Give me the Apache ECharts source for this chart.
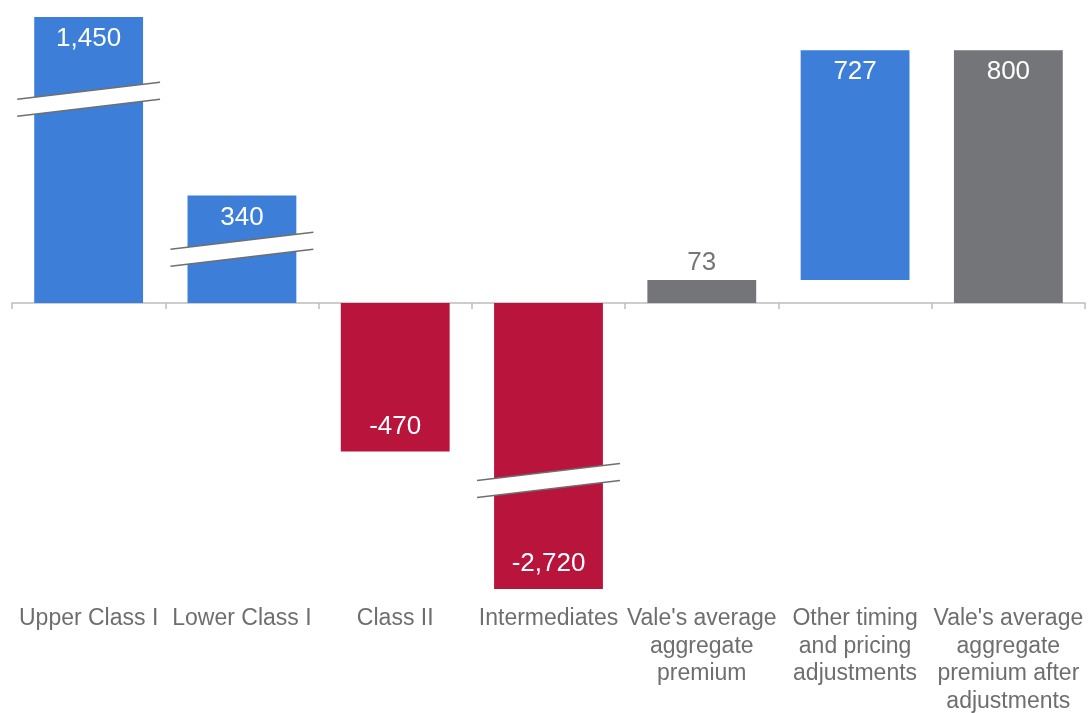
<!DOCTYPE html>
<html>
<head>
<meta charset="utf-8">
<script src="https://cdn.jsdelivr.net/npm/echarts@6/dist/echarts.min.js"></script>
<style>
  html, body { margin: 0; padding: 0; background: #ffffff; }
  #chart { width: 1088px; height: 713px; }
</style>
</head>
<body>
<div id="chart"></div>
<script>
// ---- data ----
const categories = [
  'Upper Class I',
  'Lower Class I',
  'Class II',
  'Intermediates',
  "Vale's average\naggregate\npremium",
  "Other timing\nand pricing\nadjustments",
  "Vale's average\naggregate\npremium after\nadjustments"
];
const values = [1450, 340, -470, -2720, 73, 727, 800];
const bases = [0, 0, 0, 0, 0, 73, 0];
const kinds = ['up', 'up', 'down', 'down', 'total', 'up', 'total'];
// broken-axis display limit and where the break marks sit (category index, value)
const breakCap = 905;
const breakMarks = [[0, 645], [1, 170], [3, -562]];

// ---- styling ----
const FONT = '"Liberation Sans", Arial, sans-serif';
const colors = { up: '#3c7ed8', down: '#b9143c', total: '#747578' };

const shown = values.map((v, i) => Math.max(-breakCap, Math.min(breakCap - bases[i], v)));

const barData = shown.map((v, i) => {
  const isSmallTotal = kinds[i] === 'total' && Math.abs(values[i]) < 200;
  const neg = values[i] < 0;
  return {
    value: v,
    itemStyle: { color: colors[kinds[i]] },
    label: isSmallTotal
      ? { position: 'top', distance: 4, color: '#767676' }
      : { position: neg ? 'insideBottom' : 'insideTop', distance: neg ? 12 : 9, color: '#ffffff' }
  };
});

const fmt = v => v.toLocaleString('en-US');

const chart = echarts.init(document.getElementById('chart'), null, { renderer: 'canvas' });
chart.setOption({
  animation: false,
  backgroundColor: '#ffffff',
  grid: { left: 12, right: 3, top: 17, bottom: 124, containLabel: false, outerBoundsMode: 'none' },
  xAxis: [
    {
      type: 'category',
      data: categories,
      axisLine: { show: true, onZero: true, lineStyle: { color: '#bdbdbd', width: 1.5 } },
      axisTick: { show: true, length: 6, lineStyle: { color: '#bdbdbd', width: 1.5 } },
      axisLabel: { show: false }
    },
    {
      type: 'category',
      data: categories,
      position: 'bottom',
      axisLine: { show: false, onZero: false },
      axisTick: { show: false },
      axisLabel: {
        show: true, interval: 0, hideOverlap: false, margin: 16,
        fontFamily: FONT, fontSize: 23, lineHeight: 27.5, color: '#6e6e6e', align: 'center'
      }
    }
  ],
  yAxis: {
    type: 'value',
    min: -breakCap,
    max: breakCap,
    show: false,
    splitLine: { show: false }
  },
  series: [
    {
      type: 'bar',
      stack: 'w',
      xAxisIndex: 0,
      data: bases,
      barWidth: '71%',
      itemStyle: { color: 'rgba(0,0,0,0)' },
      silent: true
    },
    {
      type: 'bar',
      stack: 'w',
      xAxisIndex: 0,
      data: barData,
      barWidth: '71%',
      label: {
        show: true,
        fontFamily: FONT,
        fontSize: 26,
        formatter: p => fmt(values[p.dataIndex])
      }
    },
    {
      type: 'custom',
      xAxisIndex: 0,
      z: 10,
      data: breakMarks,
      renderItem: function (params, api) {
        const c = api.coord([api.value(0), api.value(1)]);
        const hw = api.size([1, 0])[0] * 0.466;
        const slope = 17 / 143;
        const t = 17;
        const x0 = c[0] - hw, x1 = c[0] + hw;
        const y0 = c[1] + hw * slope, y1 = c[1] - hw * slope;
        const line = { stroke: '#6f6f6f', lineWidth: 1.5, fill: null };
        return {
          type: 'group',
          children: [
            {
              type: 'polygon',
              shape: { points: [[x0, y0 - t / 2], [x1, y1 - t / 2], [x1, y1 + t / 2], [x0, y0 + t / 2]] },
              style: { fill: '#ffffff' }
            },
            { type: 'line', shape: { x1: x0, y1: y0 - t / 2, x2: x1, y2: y1 - t / 2 }, style: line },
            { type: 'line', shape: { x1: x0, y1: y0 + t / 2, x2: x1, y2: y1 + t / 2 }, style: line }
          ]
        };
      }
    }
  ]
});
</script>
</body>
</html>
